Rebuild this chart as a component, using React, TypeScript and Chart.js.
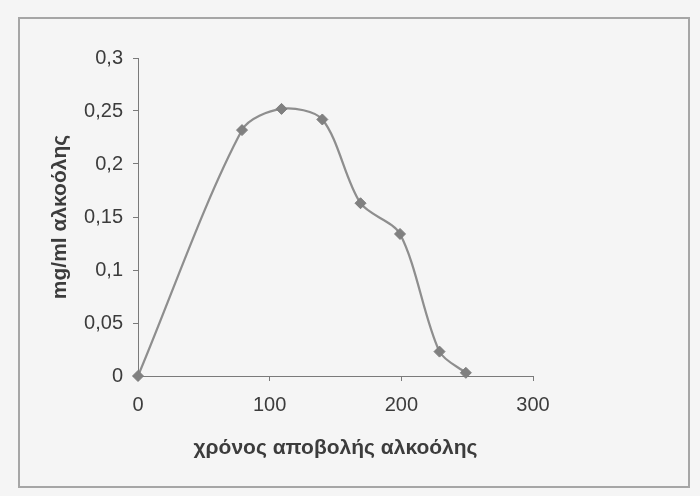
import { useEffect, useRef } from 'react';
import { Chart, registerables } from 'chart.js';

Chart.register(...registerables);

// Blood alcohol (mg/ml) over elimination time
const TIME_MIN = [0, 79, 109, 140, 169, 199, 229, 249];
const ALCOHOL_MG_ML = [0, 0.232, 0.252, 0.242, 0.163, 0.134, 0.023, 0.003];

const X_TICKS = [0, 100, 200, 300];
const X_TICK_LABELS = ['0', '100', '200', '300'];
const Y_TICKS = [0, 0.05, 0.1, 0.15, 0.2, 0.25, 0.3];
const Y_TICK_LABELS = ['0', '0,05', '0,1', '0,15', '0,2', '0,25', '0,3'];

const X_TITLE = 'χρόνος αποβολής αλκοόλης';
const Y_TITLE = 'mg/ml αλκοόλης';

const FONT = '"Liberation Sans", Arial, sans-serif';
const TEXT = '#3c3c3c';
const AXIS = '#7a7a7a';

export default function App() {
  const canvasRef = useRef<HTMLCanvasElement | null>(null);

  useEffect(() => {
    const canvas = canvasRef.current;
    if (!canvas) return;

    const points = TIME_MIN.map((t, i) => ({ x: t, y: ALCOHOL_MG_ML[i] }));

    const chart = new Chart(canvas, {
      type: 'scatter',
      data: {
        datasets: [
          {
            data: points,
            showLine: true,
            tension: 0.3,
            borderColor: '#8e8e8e',
            borderWidth: 2.25,
            pointStyle: 'rectRot',
            pointRadius: 5.5,
            pointBackgroundColor: '#808080',
            pointBorderColor: '#7c7c7c',
            pointBorderWidth: 1,
            clip: false,
          },
        ],
      },
      options: {
        animation: false,
        responsive: false,
        devicePixelRatio: 1,
        layout: { padding: { left: 0, top: 58, right: 167, bottom: 0 } },
        plugins: {
          legend: { display: false },
          tooltip: { enabled: false },
        },
        scales: {
          x: {
            type: 'linear',
            min: 0,
            max: 300,
            afterBuildTicks: (scale: any) => {
              scale.ticks = X_TICKS.map((v) => ({ value: v }));
            },
            afterFit: (scale: any) => {
              scale.height = 120;
            },
            grid: {
              display: true,
              drawOnChartArea: false,
              drawTicks: true,
              tickLength: 5,
              color: AXIS,
              lineWidth: 1,
            },
            border: { display: true, color: AXIS, width: 1 },
            ticks: {
              padding: 12,
              color: TEXT,
              font: { family: FONT, size: 20 },
              maxRotation: 0,
              callback: (_v: any, i: number) => X_TICK_LABELS[i],
            },
            title: {
              display: true,
              text: X_TITLE,
              color: TEXT,
              font: { family: FONT, size: 21, weight: 'bold' },
              padding: { top: 0, bottom: 35 },
            },
          },
          y: {
            type: 'linear',
            min: 0,
            max: 0.3,
            afterBuildTicks: (scale: any) => {
              scale.ticks = Y_TICKS.map((v) => ({ value: v }));
            },
            afterFit: (scale: any) => {
              scale.width = 138;
            },
            grid: {
              display: true,
              drawOnChartArea: false,
              drawTicks: true,
              tickLength: 5,
              color: AXIS,
              lineWidth: 1,
            },
            border: { display: true, color: AXIS, width: 1 },
            ticks: {
              padding: 10,
              color: TEXT,
              font: { family: FONT, size: 20 },
              callback: (_v: any, i: number) => Y_TICK_LABELS[i],
            },
            title: {
              display: true,
              text: Y_TITLE,
              color: TEXT,
              font: { family: FONT, size: 21, weight: 'bold' },
              padding: { top: 48, bottom: 0 },
            },
          },
        },
      },
    });

    return () => chart.destroy();
  }, []);

  return (
    <div
      style={{
        position: 'fixed',
        left: 0,
        top: 0,
        width: 700,
        height: 496,
        background: '#f5f5f5',
        overflow: 'hidden',
      }}
    >
      <div
        style={{
          position: 'absolute',
          left: 18,
          top: 17,
          width: 672,
          height: 471,
          border: '2px solid #a6a6a6',
          boxSizing: 'border-box',
        }}
      />
      <canvas
        ref={canvasRef}
        width={700}
        height={496}
        style={{ position: 'absolute', left: 0, top: 0, width: 700, height: 496, display: 'block' }}
      />
    </div>
  );
}
